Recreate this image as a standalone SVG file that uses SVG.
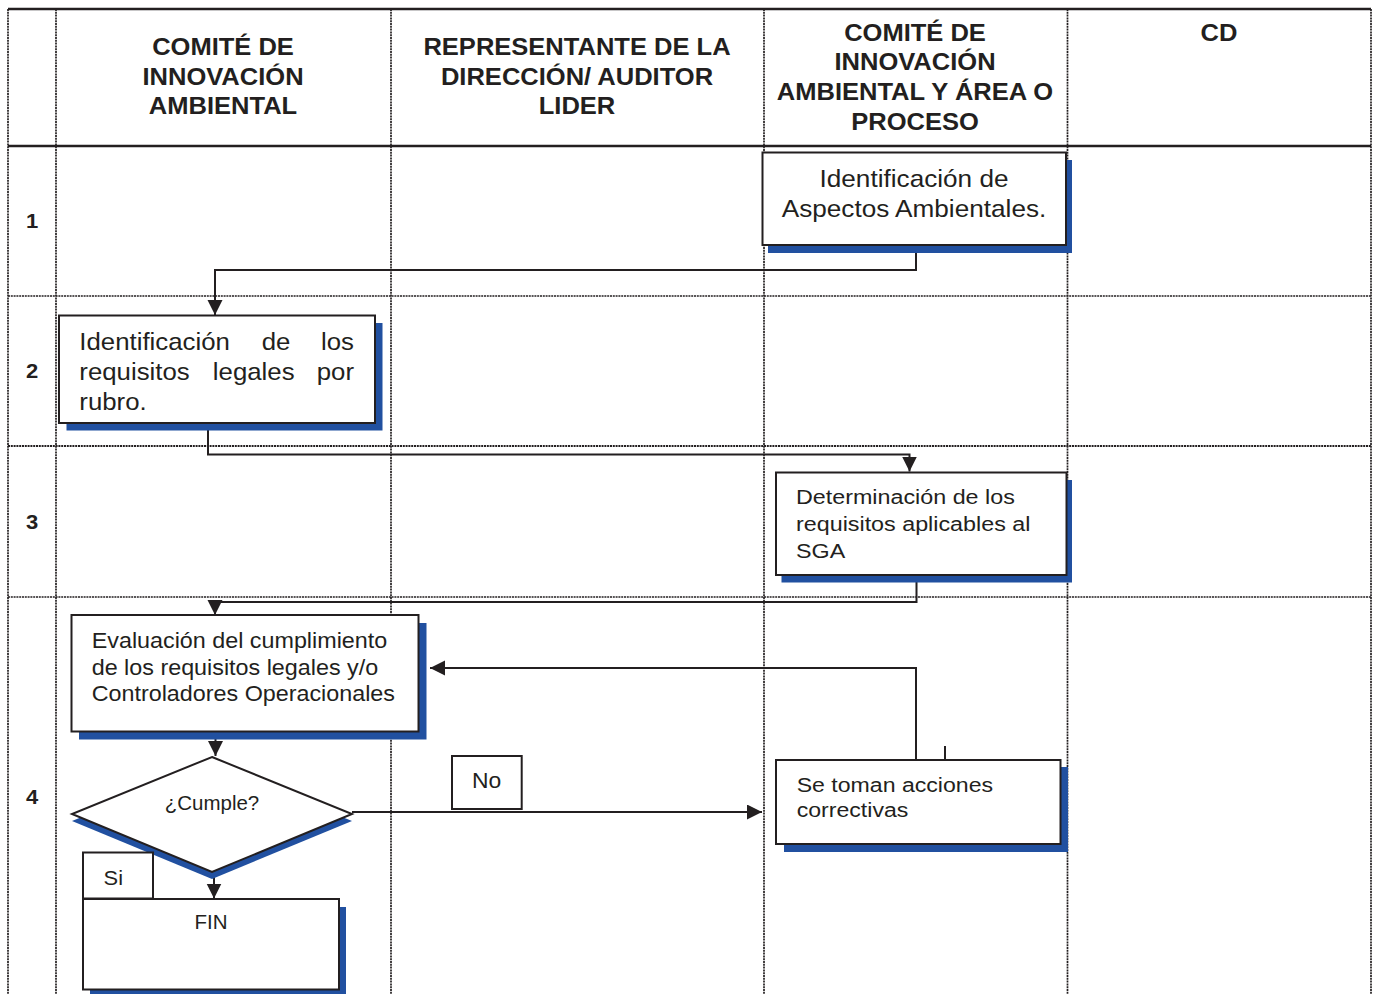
<svg xmlns="http://www.w3.org/2000/svg" width="1377" height="994" viewBox="0 0 1377 994">
<style>
.grid{stroke:#231f20;stroke-width:1.7;stroke-dasharray:2 0.8;fill:none}
.rule{stroke:#231f20;stroke-width:2.3;fill:none}
.box{fill:#fff;stroke:#231f20;stroke-width:2}
.shadow{fill:#2150a0}
.conn{fill:none;stroke:#231f20;stroke-width:2}
.hdr{font-family:"Liberation Sans",Arial,sans-serif;font-weight:bold;font-size:23px;fill:#231f20;text-anchor:middle}
.num{font-family:"Liberation Sans",Arial,sans-serif;font-weight:bold;font-size:20px;fill:#231f20;text-anchor:middle}
.t{font-family:"Liberation Sans",Arial,sans-serif;fill:#231f20}
.c{text-anchor:middle}
.e{text-anchor:end}
</style>
<defs>
<marker id="arr" markerUnits="userSpaceOnUse" markerWidth="16" markerHeight="16" refX="15" refY="7.5" orient="auto">
<path d="M0,0 L15,7.5 L0,15 z" fill="#231f20"/>
</marker>
</defs>
<rect width="1377" height="994" fill="#fff"/>

<g id="grid">
<line class="grid" x1="8" y1="9" x2="8" y2="994"/>
<line class="grid" x1="56" y1="9" x2="56" y2="994"/>
<line class="grid" x1="391" y1="9" x2="391" y2="994"/>
<line class="grid" x1="764" y1="9" x2="764" y2="994"/>
<line class="grid" x1="1067.5" y1="9" x2="1067.5" y2="994"/>
<line class="grid" x1="1371" y1="9" x2="1371" y2="994"/>
<line class="grid" x1="8" y1="296" x2="1371" y2="296"/>
<line class="grid" x1="8" y1="446" x2="1371" y2="446" style="stroke-width:2.2"/>
<line class="grid" x1="8" y1="597" x2="1371" y2="597"/>
<line class="rule" x1="8" y1="9" x2="1371" y2="9"/>
<line class="rule" x1="8" y1="146" x2="1371" y2="146"/>
</g>

<g id="headers">
<text class="hdr" transform="translate(223 55) scale(1.11 1)">COMITÉ DE</text>
<text class="hdr" transform="translate(223 84.7) scale(1.11 1)">INNOVACIÓN</text>
<text class="hdr" transform="translate(223 114.4) scale(1.11 1)">AMBIENTAL</text>
<text class="hdr" transform="translate(577 55) scale(1.11 1)">REPRESENTANTE DE LA</text>
<text class="hdr" transform="translate(577 84.7) scale(1.11 1)">DIRECCIÓN/ AUDITOR</text>
<text class="hdr" transform="translate(577 114.4) scale(1.11 1)">LIDER</text>
<text class="hdr" transform="translate(915 40.5) scale(1.11 1)">COMITÉ DE</text>
<text class="hdr" transform="translate(915 70.2) scale(1.11 1)">INNOVACIÓN</text>
<text class="hdr" transform="translate(915 99.9) scale(1.11 1)">AMBIENTAL Y ÁREA O</text>
<text class="hdr" transform="translate(915 129.6) scale(1.11 1)">PROCESO</text>
<text class="hdr" transform="translate(1219 40.5) scale(1.11 1)">CD</text>
</g>

<g id="rownums">
<text class="num" transform="translate(32 228.3) scale(1.1 1)">1</text>
<text class="num" transform="translate(32 378) scale(1.1 1)">2</text>
<text class="num" transform="translate(32 529) scale(1.1 1)">3</text>
<text class="num" transform="translate(32 804) scale(1.1 1)">4</text>
</g>

<g id="connectors">
<path class="conn" d="M916,245 V270 H215 V315" marker-end="url(#arr)"/>
<path class="conn" d="M208,423 V454.5 H909.5 V471.5" marker-end="url(#arr)"/>
<path class="conn" d="M916.5,575 V602 H215 V615" marker-end="url(#arr)"/>
<path class="conn" d="M215.5,732 V756" marker-end="url(#arr)"/>
<path class="conn" d="M214,872 V898.5" marker-end="url(#arr)"/>
<path class="conn" d="M352,812 H762" marker-end="url(#arr)"/>
<path class="conn" d="M916,760 V668 H430" marker-end="url(#arr)"/>
<line class="conn" x1="945" y1="746" x2="945" y2="760"/>
</g>

<g id="n1">
<rect class="shadow" x="768" y="160" width="304" height="93"/>
<rect class="box" x="762.5" y="152.5" width="303.5" height="92.5"/>
<text class="t c" font-size="24" transform="translate(914 186.7) scale(1.09 1)">Identificación de</text>
<text class="t c" font-size="24" transform="translate(914 216.7) scale(1.09 1)">Aspectos Ambientales.</text>
</g>

<g id="n2">
<rect class="shadow" x="66.5" y="323" width="316" height="107.5"/>
<rect class="box" x="59" y="315.5" width="316" height="107.5"/>
<text class="t" font-size="24" transform="translate(79.3 350) scale(1.075 1)">Identificación</text>
<text class="t c" font-size="24" transform="translate(276 350) scale(1.075 1)">de</text>
<text class="t e" font-size="24" transform="translate(354 350) scale(1.075 1)">los</text>
<text class="t" font-size="24" transform="translate(79.3 379.5) scale(1.075 1)">requisitos</text>
<text class="t c" font-size="24" transform="translate(253.7 379.5) scale(1.075 1)">legales</text>
<text class="t e" font-size="24" transform="translate(354 379.5) scale(1.075 1)">por</text>
<text class="t" font-size="24" transform="translate(79.3 409.5) scale(1.075 1)">rubro.</text>
</g>

<g id="n3">
<rect class="shadow" x="781.5" y="480" width="290.5" height="102.5"/>
<rect class="box" x="776" y="472.5" width="290.5" height="102.5"/>
<text class="t" font-size="21" transform="translate(796 503.5) scale(1.11 1)">Determinación de los</text>
<text class="t" font-size="21" transform="translate(796 530.5) scale(1.11 1)">requisitos aplicables al</text>
<text class="t" font-size="21" transform="translate(796 557.5) scale(1.11 1)">SGA</text>
</g>

<g id="n4">
<rect class="shadow" x="79" y="623" width="347.5" height="116.5"/>
<rect class="box" x="71.5" y="615" width="347" height="116.5"/>
<text class="t" font-size="21.5" transform="translate(91.7 648.3) scale(1.085 1)">Evaluación del cumplimiento</text>
<text class="t" font-size="21.5" transform="translate(91.7 674.5) scale(1.085 1)">de los requisitos legales y/o</text>
<text class="t" font-size="21.5" transform="translate(91.7 700.5) scale(1.085 1)">Controladores Operacionales</text>
</g>

<g id="n5">
<rect class="shadow" x="784" y="767" width="284" height="85"/>
<rect class="box" x="776" y="760" width="284.5" height="84"/>
<text class="t" font-size="21" transform="translate(796.7 791.7) scale(1.1 1)">Se toman acciones</text>
<text class="t" font-size="21" transform="translate(796.7 816.7) scale(1.1 1)">correctivas</text>
</g>

<g id="decision">
<polygon class="shadow" points="212,764 352,821 212,879 72,821"/>
<polygon class="box" points="212,757 352,814 212,872 72,814"/>
<text class="t c" font-size="19.5" transform="translate(212 810) scale(1.05 1)">¿Cumple?</text>
</g>

<g id="label-no">
<rect class="box" x="452" y="756" width="69.7" height="53"/>
<text class="t c" font-size="22" transform="translate(486.7 788) scale(1.04 1)">No</text>
</g>

<g id="fin">
<rect class="shadow" x="90" y="907" width="256" height="90"/>
<rect class="box" x="83" y="899" width="256" height="90.5"/>
<text class="t c" font-size="20.5" transform="translate(211 929.3)">FIN</text>
</g>

<g id="label-si">
<rect class="box" x="83" y="852.5" width="70" height="46"/>
<text class="t c" font-size="21" transform="translate(113.3 885) scale(1.04 1)">Si</text>
</g>
</svg>
